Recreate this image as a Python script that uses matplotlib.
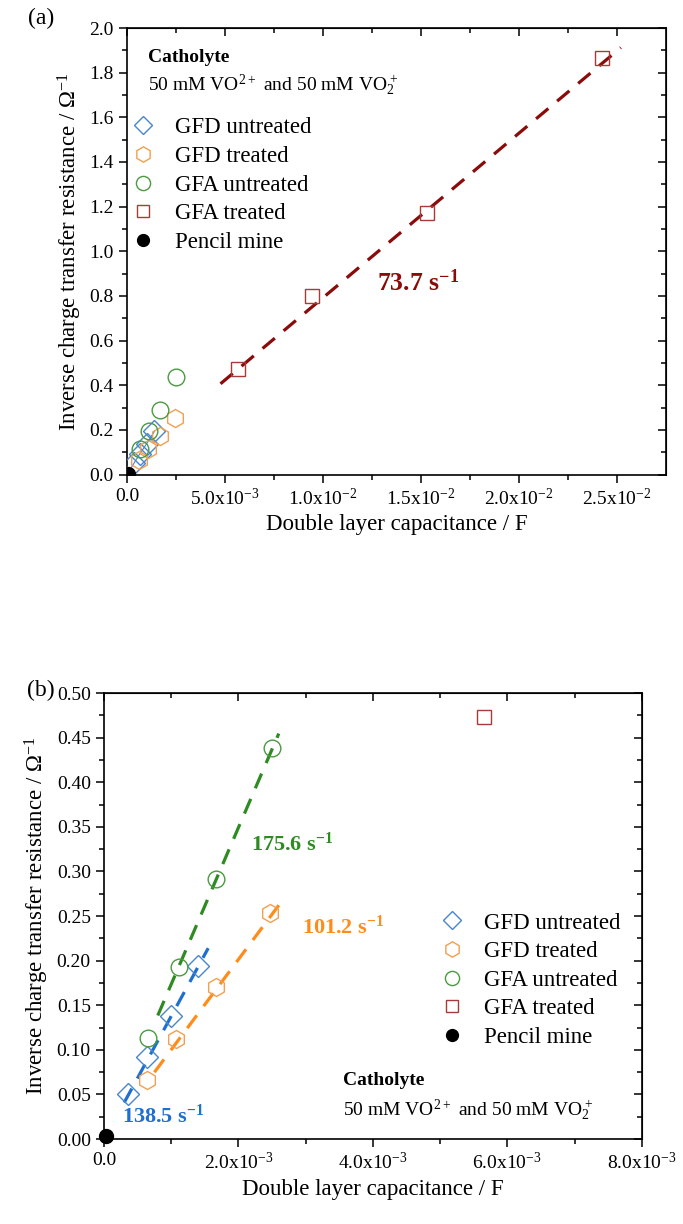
import numpy as np
import matplotlib
matplotlib.use("Agg")
import matplotlib.pyplot as plt
from matplotlib.ticker import FixedLocator, FuncFormatter

plt.rcParams['font.family'] = ['Liberation Serif', 'DejaVu Serif']
plt.rcParams['mathtext.fontset'] = 'custom'
plt.rcParams['mathtext.rm'] = 'Liberation Serif'
plt.rcParams['mathtext.bf'] = 'Liberation Serif:bold'
plt.rcParams['mathtext.default'] = 'regular'

# data (capacitance in F, inverse Rct in 1/Ohm)
gfd_untr_x = [0.35e-3, 0.645e-3, 1.00e-3, 1.40e-3]
gfd_untr_y = [0.050, 0.092, 0.138, 0.194]
gfd_tr_x = [0.635e-3, 1.07e-3, 1.66e-3, 2.47e-3]
gfd_tr_y = [0.066, 0.1125, 0.171, 0.253]
gfa_untr_x = [0.65e-3, 1.12e-3, 1.667e-3, 2.50e-3]
gfa_untr_y = [0.1135, 0.193, 0.291, 0.438]
gfa_tr_x = [5.66e-3, 9.44e-3, 15.33e-3, 24.25e-3]
gfa_tr_y = [0.473, 0.800, 1.170, 1.865]
pencil_x = [0.03e-3]
pencil_y = [0.003]

# linear fits: slope, intercept, x range
fit_gfa_tr = (73.7, 0.055, 4.77e-3, 25.2e-3)
fit_gfa_untr = (175.6, -0.002, 0.80e-3, 2.60e-3)
fit_gfd_tr = (101.2, -0.001, 0.75e-3, 2.65e-3)
fit_gfd_untr = (138.5, -0.0007, 0.30e-3, 1.55e-3)

c_blue = '#4a86c8'
c_orange = '#f0a050'
c_green = '#4a9a40'
c_red = '#a83a3a'
l_blue = '#1f6fd0'
l_orange = '#ff8c1a'
l_green = '#2e8b22'
l_red = '#8b0a0a'

FS_TICK = 14
FS_LAB = 16.5
FS_LEG = 16.5

fig = plt.figure(figsize=(6.83, 12.24), dpi=100)
ax1 = fig.add_axes([0.186, 0.6123, 0.789, 0.3648])
ax2 = fig.add_axes([0.1523, 0.0694, 0.7873, 0.3644])


def sci(v, pos):
    if v == 0:
        return '0.0'
    e = int(np.floor(np.log10(abs(v))))
    m = v / 10 ** e
    return '%.1fx10$^{%d}$' % (m, e)


def fit_line(ax, fit, color):
    k, b, x0, x1 = fit
    xs = np.array([x0, x1])
    ax.plot(xs, k * xs + b, color=color, lw=2.3, dashes=(5, 3.6), zorder=3)


def markers(ax, clip=True, thin_line=False):
    if thin_line:
        ax.plot([0] + gfd_untr_x, [0] + gfd_untr_y, color=c_blue, lw=0.8, zorder=3)
    ax.plot(gfd_untr_x, gfd_untr_y, ls='none',
            marker='D', ms=11, mfc='none', mec=c_blue, mew=1.0,
            label='GFD untreated', zorder=4)
    ax.plot(gfd_tr_x, gfd_tr_y, ls='none', marker='h', ms=13, mfc='none',
            mec=c_orange, mew=1.0, label='GFD treated', zorder=4)
    ax.plot(gfa_untr_x, gfa_untr_y, ls='none', marker='o', ms=12, mfc='none',
            mec=c_green, mew=1.0, label='GFA untreated', zorder=4)
    ax.plot(gfa_tr_x, gfa_tr_y, ls='none', marker='s', ms=10, mfc='none',
            mec=c_red, mew=1.0, label='GFA treated', zorder=4)
    ax.plot(pencil_x, pencil_y, ls='none', marker='o', ms=10, color='black',
            label='Pencil mine', zorder=5, clip_on=clip)


def frame(ax, xmaj, xmin, ymaj, ymin, yfmt):
    ax.xaxis.set_major_locator(FixedLocator(xmaj))
    ax.xaxis.set_minor_locator(FixedLocator(xmin))
    ax.yaxis.set_major_locator(FixedLocator(ymaj))
    ax.yaxis.set_minor_locator(FixedLocator(ymin))
    ax.xaxis.set_major_formatter(FuncFormatter(sci))
    ax.yaxis.set_major_formatter(FuncFormatter(lambda v, p: yfmt % v))
    ax.tick_params(which='both', direction='out', labelsize=FS_TICK, width=1.1)
    ax.tick_params(which='major', length=6)
    ax.tick_params(which='minor', length=3.5)
    for s in ax.spines.values():
        s.set_linewidth(1.2)
    top = ax.secondary_xaxis('top')
    top.xaxis.set_major_locator(FixedLocator(xmaj))
    top.xaxis.set_minor_locator(FixedLocator(xmin))
    top.tick_params(which='both', direction='in', labeltop=False, width=1.1)
    top.tick_params(which='major', length=6)
    top.tick_params(which='minor', length=3.5)
    right = ax.secondary_yaxis('right')
    right.yaxis.set_major_locator(FixedLocator(ymaj))
    right.yaxis.set_minor_locator(FixedLocator(ymin))
    right.tick_params(which='both', direction='in', labelright=False, width=1.1)
    right.tick_params(which='major', length=6)
    right.tick_params(which='minor', length=3.5)
    ax.set_xlabel('Double layer capacitance / F', fontsize=FS_LAB, labelpad=4)
    ax.set_ylabel('Inverse charge transfer resistance / \u03a9$^{-1}$',
                  fontsize=FS_LAB, labelpad=4)


def legend(ax, x0, y0):
    ax.legend(loc='upper left', bbox_to_anchor=(x0, y0), frameon=False,
              fontsize=FS_LEG, handlelength=1.2, handletextpad=0.8,
              labelspacing=0.33, borderaxespad=0, borderpad=0, markerscale=0.85)


# ---- panel (a)
fit_line(ax1, fit_gfa_tr, l_red)
markers(ax1, clip=True, thin_line=True)
ax1.set_xlim(0, 0.0275)
ax1.set_ylim(0, 2.0)
frame(ax1, np.arange(0, 0.0251, 0.005), np.arange(0.0025, 0.0275, 0.005),
      np.round(np.arange(0, 2.01, 0.2), 2), np.round(np.arange(0.1, 2.0, 0.2), 2), '%.1f')
ax1.text(0.039, 0.935, 'Catholyte', transform=ax1.transAxes, fontsize=14,
         fontweight='bold', va='center')
ax1.text(0.039, 0.872, '50 mM VO$^{2+}$ and 50 mM VO$_2^+$', transform=ax1.transAxes,
         fontsize=14, va='center')
legend(ax1, 0.004, 0.80)
ax1.text(0.01487, 0.86, '73.7 s$^{-1}$', color=l_red, fontsize=18.5, fontweight='bold',
         ha='center', va='center')
fig.text(0.06, 0.985, '(a)', fontsize=17, ha='center', va='center')

# ---- panel (b)
fit_line(ax2, fit_gfa_untr, l_green)
fit_line(ax2, fit_gfd_tr, l_orange)
fit_line(ax2, fit_gfd_untr, l_blue)
markers(ax2, clip=False)
ax2.set_xlim(0, 0.008)
ax2.set_ylim(0, 0.5)
frame(ax2, np.arange(0, 0.00801, 0.002), np.arange(0.001, 0.008, 0.002),
      np.round(np.arange(0, 0.501, 0.05), 3), np.round(np.arange(0.025, 0.5, 0.05), 3), '%.2f')
legend(ax2, 0.621, 0.508)
ax2.text(0.444, 0.132, 'Catholyte', transform=ax2.transAxes, fontsize=14,
         fontweight='bold', va='center')
ax2.text(0.444, 0.065, '50 mM VO$^{2+}$ and 50 mM VO$_2^+$', transform=ax2.transAxes,
         fontsize=14, va='center')
ax2.text(2.18e-3, 0.33, '175.6 s$^{-1}$', color=l_green, fontsize=16, fontweight='bold',
         va='center')
ax2.text(2.94e-3, 0.238, '101.2 s$^{-1}$', color=l_orange, fontsize=16, fontweight='bold',
         va='center')
ax2.text(0.27e-3, 0.026, '138.5 s$^{-1}$', color=l_blue, fontsize=16, fontweight='bold',
         va='center')
fig.text(0.06, 0.436, '(b)', fontsize=17, ha='center', va='center')

fig.savefig('out.png', dpi=100)
